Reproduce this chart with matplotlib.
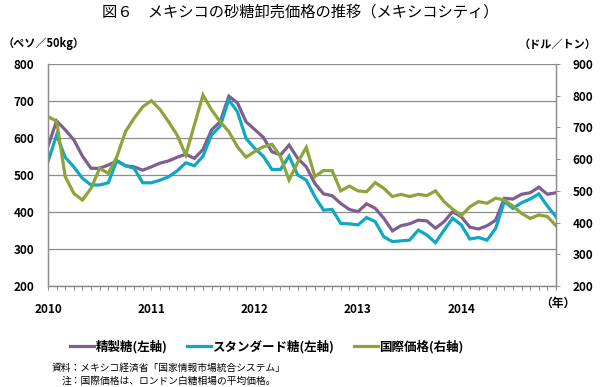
import matplotlib
matplotlib.use("Agg")
import matplotlib.pyplot as plt
from matplotlib.lines import Line2D
import numpy as np

plt.rcParams['font.family'] = ['Noto Sans CJK JP', 'DejaVu Sans']

years = ["2010", "2011", "2012", "2013", "2014"]

refined = [578, 646, 622, 595, 551, 518, 518, 527, 538, 525, 522, 513,
           522, 532, 538, 548, 556, 545, 569, 622, 644, 713, 695, 644,
           623, 602, 563, 554, 581, 545, 522, 477, 449, 444, 423, 407,
           401, 422, 410, 383, 349, 363, 368, 378, 376, 356, 374, 401,
           387, 359, 354, 363, 378, 437, 435, 448, 452, 467, 448, 452]

standard = [536, 608, 548, 522, 491, 473, 473, 479, 539, 525, 518, 479,
            479, 486, 495, 511, 533, 525, 551, 608, 632, 703, 671, 599,
            572, 551, 515, 515, 551, 500, 486, 441, 405, 407, 369, 368,
            365, 385, 374, 333, 320, 322, 324, 351, 338, 317, 351, 383,
            365, 327, 331, 324, 356, 428, 410, 425, 435, 449, 416, 387]

intl = [734, 720, 545, 492, 471, 508, 571, 555, 608, 687, 729, 765,
        784, 757, 718, 676, 613, 708, 802, 755, 718, 687, 639, 606,
        624, 639, 647, 608, 534, 590, 637, 545, 564, 564, 500, 515,
        500, 497, 526, 508, 482, 489, 482, 489, 485, 500, 466, 442,
        422, 450, 466, 461, 477, 471, 452, 429, 413, 424, 419, 390]

labels = ["精製糖(左軸)", "スタンダード糖(左軸)", "国際価格(右軸)"]
colors = ["#7E5E91", "#0FA8C2", "#8CA43A"]

fig = plt.figure(figsize=(6.0, 3.87), dpi=100)
ax = fig.add_axes([48/600, 1-286/387, (556-48)/600, (286-64)/387])
ax2 = ax.twinx()

x = np.arange(len(refined))
lw = 2.3
ax.plot(x, refined, color=colors[0], lw=lw, solid_joinstyle='miter', zorder=3)
ax.plot(x, standard, color=colors[1], lw=lw, solid_joinstyle='miter', zorder=3)
ax2.plot(x, intl, color=colors[2], lw=lw, solid_joinstyle='miter', zorder=3)

ax.set_xlim(0, len(refined) - 1)
ax.set_ylim(200, 800)
ax2.set_ylim(200, 900)
ax.set_yticks(np.arange(200, 801, 100))
ax2.set_yticks(np.arange(200, 901, 100))
ax.grid(axis='y', color='#8c8c8c', lw=0.9)
ax.set_axisbelow(True)

ax.set_xticks(np.arange(0, len(refined), 12))
ax.set_xticklabels(years)
ax.set_xticks(np.arange(0, len(refined)), minor=True)
ax.tick_params(axis='x', which='both', direction='out', length=3, width=0.7,
               color='#8c8c8c', pad=9, labelsize=8.5)
for t in ax.get_xticklabels():
    t.set_fontweight('bold')
ax.tick_params(axis='y', length=0, pad=10, labelsize=8.5)
ax2.tick_params(axis='y', length=3, width=0.7, color='#8c8c8c', pad=9, labelsize=8.5)
for t in ax.get_yticklabels() + ax2.get_yticklabels():
    t.set_fontweight('bold')

for a in (ax, ax2):
    a.spines['top'].set_visible(False)
    for s in ['left', 'right', 'bottom']:
        a.spines[s].set_color('#8c8c8c')
        a.spines[s].set_linewidth(0.9)

fig.text(0.5, 1-12/387, "図６　メキシコの砂糖卸売価格の推移（メキシコシティ）",
         ha='center', va='center', fontsize=11)
fig.text(3/600, 1-44/387, "（ペソ／50kg）", ha='left', va='center', fontsize=8, fontweight='bold')
fig.text(597/600, 1-44/387, "（ドル／トン）", ha='right', va='center', fontsize=8, fontweight='bold')
fig.text(558/600, 1-303/387, "（年）", ha='center', va='center', fontsize=8.5, fontweight='bold')

handles = [Line2D([], [], color=c, lw=2.3) for c in colors]
leg = fig.legend(handles, labels, loc='center', bbox_to_anchor=(267/600, 1-347/387),
                 ncol=3, frameon=False, handlelength=1.9, handletextpad=0.1,
                 columnspacing=1.6, prop={'size': 9, 'weight': 'bold'})

fig.text(52/600, 1-368/387, "資料：メキシコ経済省「国家情報市場統合システム」",
         ha='left', va='center', fontsize=7)
fig.text(62/600, 1-381/387, "注：国際価格は、ロンドン白糖相場の平均価格。",
         ha='left', va='center', fontsize=7)

fig.savefig("out.png", dpi=100)
